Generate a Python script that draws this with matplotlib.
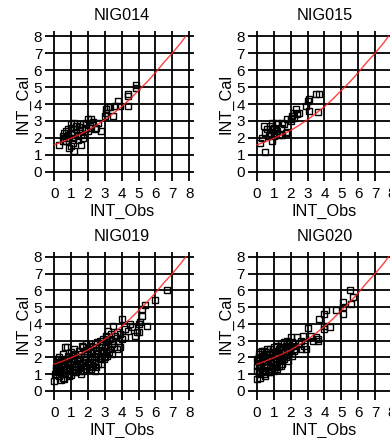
import matplotlib.pyplot as plt
import numpy as np

plt.rcParams['font.family'] = ['Liberation Sans', 'DejaVu Sans']

panel_names = ["NIG014", "NIG015", "NIG019", "NIG020"]
tick_labels = ["0", "1", "2", "3", "4", "5", "6", "7", "8"]

# fitted curve
fit_obs = [0, 0.5, 1, 1.5, 2, 2.5, 3, 3.5, 4, 4.5, 5, 5.5, 6, 6.5, 7, 7.5, 7.8]
fit_cal = [1.6, 1.78, 1.98, 2.2, 2.45, 2.75, 3.08, 3.45, 3.85, 4.3, 4.8, 5.3,
           5.85, 6.45, 7.0, 7.6, 8.0]

nig014 = [(4.85, 5.15), (4.85, 4.95), (4.4, 4.6), (4.35, 4.5), (4.4, 3.9), (3.8, 4.2),
          (3.6, 3.9), (3.5, 3.3), (3.2, 3.8), (3.1, 3.7), (3.1, 3.5), (3.3, 3.85),
          (3.0, 3.3), (3.9, 3.9), (2.8, 2.4), (2.5, 2.6), (2.2, 3.1), (2.0, 3.1),
          (2.3, 2.95), (1.9, 2.9), (1.7, 2.8), (1.5, 2.8), (1.3, 2.7), (1.0, 2.6),
          (0.8, 2.5), (0.6, 2.3), (0.5, 2.1), (0.3, 1.6), (0.7, 1.8), (0.9, 1.4),
          (1.0, 1.5), (1.2, 1.25), (1.6, 1.6), (1.4, 1.9), (1.1, 2.0), (0.8, 2.2),
          (1.2, 2.3), (1.5, 2.4), (1.8, 2.5), (2.0, 2.4), (2.2, 2.6), (1.0, 2.3),
          (0.7, 2.4), (1.3, 2.5), (1.6, 2.2), (1.9, 2.6), (2.1, 2.7), (0.9, 2.0),
          (1.1, 1.7), (0.6, 2.0), (1.4, 2.1), (0.5, 1.8), (1.7, 2.0), (2.4, 2.5),
          (1.2, 2.9), (1.0, 2.8), (2.6, 2.9), (1.45, 2.65)]

nig015 = [(3.7, 4.6), (3.5, 4.6), (3.6, 3.55), (3.1, 3.6), (3.1, 4.3), (3.0, 4.2),
          (2.9, 3.9), (2.5, 3.5), (2.3, 3.7), (2.2, 3.5), (2.1, 3.3), (2.0, 3.1),
          (2.2, 3.2), (2.0, 3.0), (1.8, 3.1), (1.8, 2.35), (1.7, 2.3), (1.5, 2.2),
          (1.6, 2.8), (1.5, 2.9), (1.2, 2.9), (1.1, 2.8), (1.0, 2.6), (0.9, 2.5),
          (1.0, 2.3), (0.8, 2.7), (0.6, 2.5), (0.4, 2.7), (0.3, 2.0), (0.2, 1.7),
          (0.5, 1.2), (0.9, 1.8), (1.0, 2.1), (0.7, 2.1), (1.2, 2.4), (1.4, 2.6),
          (0.9, 2.9), (1.1, 2.5), (0.5, 2.3), (2.4, 3.4), (1.3, 2.2), (0.8, 2.3)]

nig019 = [(0.0, 0.6), (0.05, 1.0), (0.1, 1.2), (0.1, 1.4), (0.15, 1.6), (0.2, 1.1),
          (0.2, 1.3), (0.25, 1.5), (0.3, 1.7), (0.3, 0.9), (0.35, 1.2), (0.4, 1.4),
          (0.4, 1.8), (0.45, 1.0), (0.5, 0.8), (0.5, 1.3), (0.5, 1.6), (0.55, 2.2),
          (0.6, 0.7), (0.6, 1.1), (0.6, 1.5), (0.65, 2.6), (0.7, 1.9), (0.7, 1.3),
          (0.75, 2.6), (0.8, 1.0), (0.8, 1.7), (0.85, 1.4), (0.9, 2.0), (0.9, 1.2),
          (0.95, 1.6), (1.0, 0.95), (1.0, 1.8), (1.0, 2.3), (1.05, 1.4), (1.1, 1.1),
          (1.1, 2.1), (1.15, 1.6), (1.2, 1.3), (1.2, 1.9), (1.25, 2.2), (1.3, 1.5),
          (1.3, 1.1), (1.35, 1.8), (1.4, 2.0), (1.4, 1.3), (1.45, 2.4), (1.5, 1.6),
          (1.5, 1.2), (1.55, 1.9), (1.6, 2.2), (1.6, 1.4), (1.65, 2.7), (1.7, 1.7),
          (1.7, 1.2), (1.75, 2.0), (1.8, 2.4), (1.8, 1.5), (1.85, 1.9), (1.9, 2.8),
          (1.9, 1.3), (1.95, 2.2), (2.0, 1.7), (2.0, 2.5), (2.05, 1.4), (2.1, 2.0),
          (2.1, 2.7), (2.15, 1.6), (2.2, 2.3), (2.2, 1.3), (2.25, 1.9), (2.3, 2.6),
          (2.3, 1.5), (2.35, 2.1), (2.4, 2.8), (2.4, 1.7), (2.45, 2.4), (2.5, 1.4),
          (2.5, 2.0), (2.55, 2.9), (2.6, 2.2), (2.6, 1.6), (2.65, 2.6), (2.7, 1.9),
          (2.7, 3.0), (2.75, 2.4), (2.8, 2.1), (2.8, 1.6), (2.85, 2.8), (2.9, 2.3),
          (2.9, 3.1), (2.95, 1.9), (3.0, 2.6), (3.0, 2.0), (3.05, 3.3), (3.1, 2.4),
          (3.1, 2.9), (3.15, 2.1), (3.2, 3.6), (3.2, 2.7), (3.25, 2.3), (3.3, 3.1),
          (3.3, 2.5), (3.35, 3.4), (3.4, 2.8), (3.4, 2.2), (3.5, 3.9), (3.5, 3.0),
          (3.55, 2.6), (3.6, 3.3), (3.7, 2.5), (3.7, 3.5), (3.8, 3.0), (3.9, 2.6),
          (3.9, 3.4), (4.0, 4.3), (4.0, 3.1), (4.2, 3.2), (4.2, 3.7), (4.4, 3.6),
          (4.5, 4.0), (4.6, 3.8), (4.8, 3.3), (4.9, 3.5), (5.0, 3.5), (5.0, 4.0),
          (5.1, 4.1), (5.2, 4.5), (5.2, 4.9), (5.4, 5.1), (5.5, 3.9), (6.0, 5.4),
          (6.7, 6.0), (0.3, 2.0), (0.8, 2.1), (1.2, 2.5), (1.7, 2.6), (0.2, 1.9),
          (0.9, 0.9), (1.6, 1.0), (2.4, 1.2), (0.4, 0.65)]

nig020 = [(0.0, 0.7), (0.0, 1.2), (0.0, 1.5), (0.05, 1.8), (0.1, 1.0), (0.1, 1.4),
          (0.1, 2.0), (0.15, 1.6), (0.2, 1.2), (0.2, 1.9), (0.2, 2.3), (0.25, 1.5),
          (0.3, 1.1), (0.3, 1.7), (0.35, 2.1), (0.4, 1.4), (0.4, 2.4), (0.45, 1.8),
          (0.5, 1.2), (0.5, 2.0), (0.55, 1.6), (0.6, 2.3), (0.6, 1.4), (0.65, 1.9),
          (0.7, 1.1), (0.7, 2.2), (0.75, 1.7), (0.8, 2.5), (0.8, 1.5), (0.85, 2.0),
          (0.9, 1.3), (0.9, 2.3), (0.95, 1.8), (1.0, 2.6), (1.0, 1.6), (1.05, 2.1),
          (1.1, 1.4), (1.1, 2.4), (1.15, 1.9), (1.2, 2.7), (1.2, 1.7), (1.25, 2.2),
          (1.3, 1.5), (1.3, 2.5), (1.35, 2.0), (1.4, 2.8), (1.4, 1.8), (1.45, 2.3),
          (1.5, 2.6), (1.5, 1.6), (1.55, 2.1), (1.6, 2.9), (1.6, 1.9), (1.65, 2.4),
          (1.7, 2.7), (1.7, 2.0), (1.75, 2.2), (1.8, 3.0), (1.8, 2.5), (1.85, 1.8),
          (1.9, 2.8), (1.9, 2.3), (2.0, 3.2), (2.0, 2.6), (2.05, 2.1), (2.1, 2.9),
          (2.2, 2.7), (2.2, 2.4), (2.3, 2.5), (2.4, 3.2), (2.5, 2.8), (2.6, 3.0),
          (2.6, 2.5), (2.7, 3.3), (2.8, 2.7), (2.9, 2.5), (3.0, 3.75), (3.2, 3.3),
          (3.3, 3.0), (3.5, 3.2), (3.6, 2.95), (3.6, 3.1), (3.7, 4.3), (4.0, 3.7),
          (4.0, 4.6), (4.1, 4.8), (4.0, 3.9), (4.3, 3.8), (4.7, 4.8), (5.1, 4.6),
          (5.1, 5.0), (5.1, 5.3), (5.6, 5.2), (5.7, 5.6), (5.5, 6.0), (0.3, 2.4),
          (0.6, 2.5), (0.5, 0.9), (0.8, 1.1), (1.0, 1.2), (0.2, 0.8), (0.4, 1.0),
          (1.2, 1.3), (1.4, 1.5), (0.0, 1.9), (0.1, 2.2)]

panel_data = [nig014, nig015, nig019, nig020]

# axes boxes in figure fraction (right column runs off the figure edge)
boxes = [[0.126, 0.596, 0.372, 0.333],
         [0.646, 0.596, 0.372, 0.333],
         [0.126, 0.096, 0.372, 0.329],
         [0.646, 0.096, 0.372, 0.329]]

fig = plt.figure(figsize=(3.9, 4.38), dpi=100)

for name, pts, box in zip(panel_names, panel_data, boxes):
    ax = fig.add_axes(box)
    pts = np.array(pts)
    ax.set_xlim(-0.3, 8.3)
    ax.set_ylim(-0.3, 8.3)
    ax.set_xticks(range(9))
    ax.set_yticks(range(9))
    ax.set_xticklabels(tick_labels)
    ax.set_yticklabels(tick_labels)
    ax.grid(True, color='black', linewidth=1.3)
    ax.set_axisbelow(True)
    for s in ax.spines.values():
        s.set_visible(False)
    ax.tick_params(direction='out', length=3, width=1.3, labelsize=11, colors='black')
    ax.tick_params(axis='x', pad=4)
    ax.tick_params(axis='y', pad=2)
    ax.plot(pts[:, 0], pts[:, 1], 's', markersize=5, markerfacecolor='none',
            markeredgecolor='black', markeredgewidth=1, zorder=3)
    ax.plot(fit_obs, fit_cal, color='#ff2020', linewidth=1, alpha=0.85, zorder=4)
    ax.set_title(name, fontsize=11.7, pad=8)
    ax.set_xlabel("INT_Obs", fontsize=11.7, labelpad=2)
    ax.set_ylabel("INT_Cal", fontsize=11.7, labelpad=2)

plt.savefig("out.png", dpi=100)
